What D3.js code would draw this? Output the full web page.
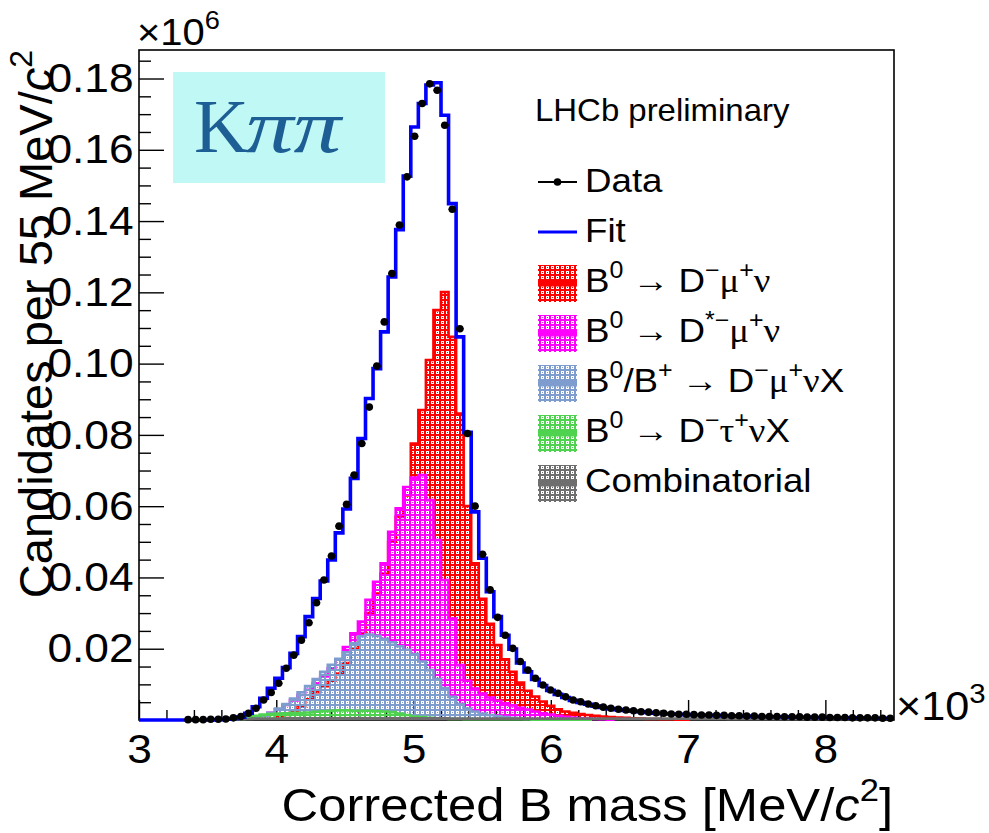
<!DOCTYPE html>
<html>
<head>
<meta charset="utf-8">
<script src="https://d3js.org/d3.v7.min.js"></script>
<style>
  body { margin: 0; background: #fff; }
  svg { display: block; font-family: "Liberation Sans", Arial, sans-serif; }
</style>
</head>
<body>
<div id="chart"></div>
<script>
// x in units of 10^3 MeV/c^2, y in units of 10^6 candidates per 55 MeV/c^2
const binLow = 3.0, binWidth = 0.055;

// total fit, one value per bin (100 bins, 3.0 - 8.5)
const fitValues = [
  0, 0, 0, 0, 0, 0, 0, 0, 0, 0,
  .0001, .0002, .0004, .0008, .0019, .0037, .0061, .0089, .0117, .0147,
  .0187, .0234, .0290, .0341, .0390, .0449, .0525, .0592, .0678, .0790,
  .0902, .0986, .1089, .1243, .1376, .1526, .1664, .1730, .1782, .1788,
  .1697, .1449, .1075, .0807, .0584, .0454, .0360, .0290, .0238, .0199,
  .0160, .0135, .0114, .0097, .0083, .0072, .0063, .0055, .0049, .0044,
  .0039, .0035, .0032, .0029, .0027, .0025, .0023, .0021, .0019, .0018,
  .0017, .0016, .0015, .0014, .0014, .0013, .0013, .0012, .0012, .0011,
  .0011, .0010, .0010, .0009, .0009, .0009, .0008, .0008, .0008, .0007,
  .0007, .0007, .0006, .0006, .0006, .0006, .0005, .0005, .0005, .0005
];

// data points, starting at bin 6
const dataStart = 6;
const dataValues = [
  .0001, .0001, .0001, .0002,
  .0002, .0003, .0006, .0010, .0019, .0033, .0056, .0077, .0103, .0145,
  .0182, .0224, .0273, .0329, .0393, .0460, .0544, .0605, .0687, .0776,
  .0878, .0993, .1117, .1253, .1389, .1524, .1638, .1730, .1785, .1767,
  .1669, .1433, .1098, .0804, .0600, .0465, .0365, .0288, .0238, .0201,
  .0164, .0140, .0117, .0098, .0084, .0075, .0065, .0056, .0051, .0045,
  .0040, .0036, .0033, .0030, .0028, .0026, .0023, .0022, .0020, .0019,
  .0017, .0016, .0016, .0015, .0014, .0014, .0013, .0013, .0012, .0012,
  .0011, .0011, .0010, .0010, .0010, .0009, .0009, .0009, .0008, .0008,
  .0008, .0007, .0007, .0007, .0006, .0006, .0006, .0006, .0005, .0005
];

// B0 -> D- mu+ nu, from bin 18
const dmunuStart = 18;
const dmunuValues = [
  .0008, .0014,
  .0022, .0038, .0058, .0078, .0095, .0110, .0130, .0160, .0200, .0244,
  .0300, .0355, .0410, .0500, .0570, .0630, .0776, .0870, .1010, .1150,
  .1201, .1075, .0860, .0600, .0440, .0340, .0270, .0210, .0170, .0135,
  .0105, .0082, .0066, .0052, .0040, .0030, .0024, .0020, .0017, .0014,
  .0012, .0010, .0008, .0007, .0006, .0005, .0004, .0003, .0003, .0002,
  .0002, .0001, .0001
];

// B0 -> D*- mu+ nu, from bin 15
const dstarStart = 15;
const dstarValues = [
  .0005, .0012, .0020, .0030, .0042,
  .0055, .0070, .0085, .0103, .0122, .0145, .0170, .0205, .0243, .0276,
  .0337, .0388, .0440, .0528, .0594, .0654, .0680, .0687, .0617, .0505,
  .0393, .0285, .0154, .0110, .0088, .0074, .0063, .0054, .0047, .0041,
  .0034, .0029, .0024, .0019, .0015, .0012, .0009, .0007, .0005, .0004,
  .0003, .0002, .0001
];

// B0/B+ -> D- mu+ nu X, from bin 15
const dmunuxStart = 15;
const dmunuxValues = [
  .0005, .0012, .0020, .0032, .0045,
  .0060, .0078, .0095, .0115, .0135, .0155, .0172, .0190, .0215, .0235,
  .0240, .0236, .0228, .0218, .0207, .0197, .0185, .0164, .0140, .0115,
  .0090, .0065, .0045, .0032, .0024, .0018, .0014, .0011, .0008, .0006,
  .0004, .0003, .0002, .0001
];

// B0 -> D- tau+ nu X, from bin 13
const dtaunuStart = 13;
const dtaunuValues = [
  .0003, .0008, .0012, .0015, .0017, .0018, .0019,
  .0020, .0020, .0021, .0023, .0025, .0026, .0027, .0027, .0026, .0026,
  .0026, .0025, .0024, .0022, .0018, .0014, .0010, .0008, .0006, .0005,
  .0004, .0003, .0003, .0002, .0002, .0002, .0002, .0002, .0002, .0002,
  .0002, .0002, .0001, .0001, .0001, .0001, .0001, .0001, .0001, .0001
];

// combinatorial, from bin 12
const combStart = 12;
const combValues = [
  .0002, .0003, .0003, .0004, .0004, .0004, .0004, .0005,
  .0005, .0005, .0005, .0005, .0005, .0005, .0005, .0005, .0005, .0005,
  .0005, .0005, .0005, .0005, .0005, .0005, .0005, .0005, .0005, .0005,
  .0005, .0004, .0004, .0004, .0004, .0004, .0004, .0004, .0004, .0004,
  .0004, .0004, .0004, .0004, .0004, .0004, .0004, .0004, .0004, .0004,
  .0004, .0004, .0004, .0004, .0004, .0004, .0004, .0004, .0004, .0004,
  .0004, .0004, .0004, .0004, .0004, .0004, .0004, .0004, .0003, .0003,
  .0003, .0003, .0003, .0003, .0003, .0003, .0003, .0003, .0003, .0003,
  .0003, .0003, .0003, .0003, .0003, .0003, .0003, .0003
];

const xTickValues = [3, 4, 5, 6, 7, 8];
const yTickValues = [0.02, 0.04, 0.06, 0.08, 0.10, 0.12, 0.14, 0.16, 0.18];

const serif = "'Liberation Serif', 'DejaVu Serif', serif";
const sx = 1.08;  // the picture's text is a little wider than tall

// legend labels: [text, "sup" | "serif"]
const components = [
  { key: "dmunu", color: "#ff0000", start: dmunuStart, values: dmunuValues,
    label: [["B"], ["0", "sup"], [" \u2192 ", "serif"], ["D"], ["\u2212", "sup"], ["\u03bc", "serif"], ["+", "sup"], ["\u03bd", "serif"]] },
  { key: "dstar", color: "#ff00ff", start: dstarStart, values: dstarValues,
    label: [["B"], ["0", "sup"], [" \u2192 ", "serif"], ["D"], ["*\u2212", "sup"], ["\u03bc", "serif"], ["+", "sup"], ["\u03bd", "serif"]] },
  { key: "dmunux", color: "#7f9ccf", start: dmunuxStart, values: dmunuxValues,
    label: [["B"], ["0", "sup"], ["/B"], ["+", "sup"], [" \u2192 ", "serif"], ["D"], ["\u2212", "sup"], ["\u03bc", "serif"], ["+", "sup"], ["\u03bd", "serif"], ["X"]] },
  { key: "dtaunu", color: "#4fd24f", start: dtaunuStart, values: dtaunuValues,
    label: [["B"], ["0", "sup"], [" \u2192 ", "serif"], ["D"], ["\u2212", "sup"], ["\u03c4", "serif"], ["+", "sup"], ["\u03bd", "serif"], ["X"]] },
  { key: "comb", color: "#6e6e6e", start: combStart, values: combValues,
    label: [["Combinatorial"]] }
];

const W = 989, H = 833;
const x = d3.scaleLinear().domain([3, 8.5]).range([139, 894]);
const y = d3.scaleLinear().domain([0, 0.188]).range([720, 50]);

const svg = d3.select("#chart").append("svg")
    .attr("width", W)
    .attr("height", H);

// pattern fills, all aligned on the same grid
const defs = svg.append("defs");
components.forEach(c => {
  const p = defs.append("pattern")
      .attr("id", "pat-" + c.key)
      .attr("patternUnits", "userSpaceOnUse")
      .attr("width", 5)
      .attr("height", 5);
  p.append("path")
      .attr("d", "M0,0H5V5H0Z M1,1V4H4V1Z M2,2H3V3H2Z")
      .attr("fill", c.color)
      .attr("fill-rule", "evenodd");
});

// text placed at (tx,ty) and stretched horizontally
function wideText(tx, ty, stretch) {
  return svg.append("g")
      .attr("transform", `translate(${tx},${ty}) scale(${stretch},1)`)
      .append("text");
}

// rich text helper for superscripts
function richText(sel, parts, size) {
  let shift = 0;
  parts.forEach(p => {
    const isSup = p[1] === "sup";
    const target = isSup ? -0.42 * size : 0;
    sel.append("tspan")
        .attr("dy", target - shift)
        .attr("font-size", isSup ? size * 0.68 : size)
        .attr("font-family", p[1] === "serif" ? serif : null)
        .attr("font-style", p[1] === "italic" ? "italic" : null)
        .text(p[0]);
    shift = target;
  });
}

// frame
svg.append("rect")
    .attr("x", x(3)).attr("y", y(0.188))
    .attr("width", x(8.5) - x(3)).attr("height", y(0) - y(0.188))
    .attr("fill", "none")
    .attr("stroke", "#000")
    .attr("stroke-width", 1.6);

// axes (ticks inside)
const yAxis = svg.append("g")
    .attr("transform", `translate(${x(3)},0)`)
    .call(d3.axisLeft(y).tickValues(yTickValues).tickSizeInner(-25).tickSizeOuter(0).tickPadding(5).tickFormat(d3.format(".2f")));
const yMinor = svg.append("g")
    .attr("transform", `translate(${x(3)},0)`)
    .call(d3.axisLeft(y).tickValues(d3.range(0.005, 0.188, 0.005).filter(v => Math.round(v * 1000) % 20 !== 0)).tickSizeInner(-12).tickSizeOuter(0).tickFormat(""));
const xAxis = svg.append("g")
    .attr("transform", `translate(0,${y(0)})`)
    .call(d3.axisBottom(x).tickValues(xTickValues).tickSizeInner(-20).tickSizeOuter(0).tickPadding(14).tickFormat(d3.format("d")));
const xMinor = svg.append("g")
    .attr("transform", `translate(0,${y(0)})`)
    .call(d3.axisBottom(x).tickValues(d3.range(3.2, 8.5, 0.2).filter(v => Math.abs(v - Math.round(v)) > 0.01)).tickSizeInner(-10).tickSizeOuter(0).tickFormat(""));

[yAxis, yMinor, xAxis, xMinor].forEach(g => {
  g.select(".domain").remove();
  g.selectAll(".tick line").attr("stroke", "#000").attr("stroke-width", 1.4);
  g.selectAll("text")
      .attr("font-size", 41)
      .attr("font-family", "'Liberation Sans', Arial, sans-serif")
      .attr("fill", "#000")
      .attr("transform", `scale(${sx},1)`);
});

// histogram components
function stepPoints(start, values) {
  const pts = [[binLow + start * binWidth, 0]];
  values.forEach((v, i) => pts.push([binLow + (start + i) * binWidth, v]));
  pts.push([binLow + (start + values.length) * binWidth, values[values.length - 1]]);
  pts.push([binLow + (start + values.length) * binWidth, 0]);
  return pts;
}

const area = d3.area()
    .curve(d3.curveStepAfter)
    .x(d => x(d[0]))
    .y0(y(0))
    .y1(d => y(d[1]));
const line = d3.line()
    .curve(d3.curveStepAfter)
    .x(d => x(d[0]))
    .y(d => y(d[1]));

components.forEach(c => {
  const pts = stepPoints(c.start, c.values);
  svg.append("path")
      .attr("d", area(pts))
      .attr("fill", `url(#pat-${c.key})`);
  svg.append("path")
      .attr("d", line(pts))
      .attr("fill", "none")
      .attr("stroke", c.color)
      .attr("stroke-width", 2.6);
});

// fit
const fitPts = fitValues.map((v, i) => [binLow + i * binWidth, v]);
fitPts.push([binLow + fitValues.length * binWidth, fitValues[fitValues.length - 1]]);
svg.append("path")
    .attr("d", line(fitPts))
    .attr("fill", "none")
    .attr("stroke", "#0000ff")
    .attr("stroke-width", 3.6);

// data
const dataPts = dataValues.map((v, i) => ({ lo: binLow + (dataStart + i) * binWidth, v: v }));
const dataG = svg.append("g");
dataG.selectAll("line")
    .data(dataPts)
    .join("line")
    .attr("x1", d => x(d.lo))
    .attr("x2", d => x(d.lo + binWidth))
    .attr("y1", d => y(d.v))
    .attr("y2", d => y(d.v))
    .attr("stroke", "#000")
    .attr("stroke-width", 1.5);
dataG.selectAll("circle")
    .data(dataPts)
    .join("circle")
    .attr("cx", d => x(d.lo + binWidth / 2))
    .attr("cy", d => y(d.v))
    .attr("r", 3.8)
    .attr("fill", "#000");

// axis multipliers
richText(wideText(137, 45, sx), [["\u00d710"], ["6", "sup"]], 37);
richText(wideText(896, 720, sx), [["\u00d710"], ["3", "sup"]], 40);

// axis titles
richText(wideText(893, 821, sx).attr("text-anchor", "end"),
    [["Corrected B mass [MeV/"], ["c", "italic"], ["2", "sup"], ["]"]], 47);
richText(svg.append("text").attr("transform", "translate(52,50) rotate(-90)").attr("text-anchor", "end"),
    [["Candidates per 55 MeV/"], ["c", "italic"], ["2", "sup"]], 47);

// K pi pi label
svg.append("rect")
    .attr("x", 173).attr("y", 72)
    .attr("width", 212).attr("height", 111)
    .attr("fill", "#bff8f5");
wideText(194, 152, 1)
    .attr("font-family", serif)
    .attr("font-size", 76)
    .attr("fill", "#1d5f95")
    .text("K");
wideText(246, 152, 1.25)
    .attr("font-family", serif)
    .attr("font-size", 76)
    .attr("font-style", "italic")
    .attr("fill", "#1d5f95")
    .text("\u03c0\u03c0");

// legend
wideText(535, 121, sx)
    .attr("font-size", 30.5)
    .text("LHCb preliminary");

const legX = 538, legW = 39, legTextX = 585, legTop = 192, legStep = 50, legSize = 34;
const legData = svg.append("g");
legData.append("line")
    .attr("x1", legX).attr("x2", legX + legW)
    .attr("y1", legTop - 10).attr("y2", legTop - 10)
    .attr("stroke", "#000").attr("stroke-width", 2);
legData.append("circle")
    .attr("cx", legX + legW / 2).attr("cy", legTop - 10).attr("r", 3.8);
wideText(legTextX, legTop, sx).attr("font-size", legSize).text("Data");

svg.append("line")
    .attr("x1", legX).attr("x2", legX + legW)
    .attr("y1", legTop + legStep - 10).attr("y2", legTop + legStep - 10)
    .attr("stroke", "#0000ff").attr("stroke-width", 3);
wideText(legTextX, legTop + legStep, sx).attr("font-size", legSize).text("Fit");

components.forEach((c, i) => {
  const base = legTop + (i + 2) * legStep;
  svg.append("rect")
      .attr("x", legX).attr("y", base - 27)
      .attr("width", legW).attr("height", 37)
      .attr("fill", `url(#pat-${c.key})`);
  svg.append("line")
      .attr("x1", legX).attr("x2", legX + legW)
      .attr("y1", base - 8.5).attr("y2", base - 8.5)
      .attr("stroke", c.color).attr("stroke-width", 6);
  richText(wideText(legTextX, base, sx), c.label, legSize);
});
</script>
</body>
</html>
